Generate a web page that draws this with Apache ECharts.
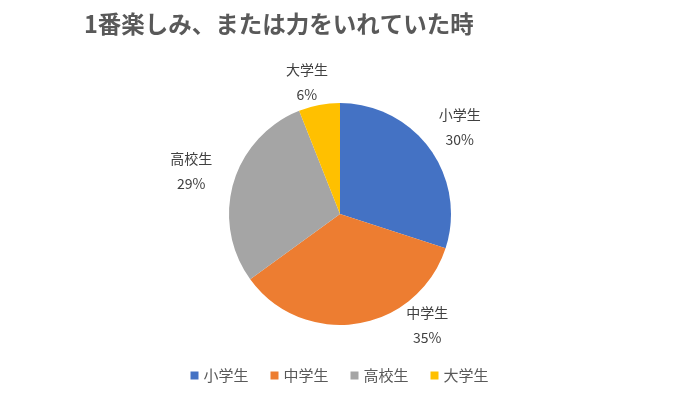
<!DOCTYPE html>
<html>
<head>
<meta charset="utf-8">
<script src="https://cdn.jsdelivr.net/npm/echarts@6/dist/echarts.min.js"></script>
<style>
  html, body { margin: 0; padding: 0; background: #fff; }
  #main { width: 679px; height: 402px; }
</style>
</head>
<body>
<div id="main"></div>
<script>
// 学年ごとの割合 (%)
var categories = ['小学生', '中学生', '高校生', '大学生'];
var values = [30, 35, 29, 6];
var colors = ['#4472C4', '#ED7D31', '#A5A5A5', '#FFC000'];

var font = '"Noto Sans CJK JP", "Noto Sans", sans-serif';

var myChart = echarts.init(document.getElementById('main'));
var option = {
  title: {
    text: '1番楽しみ、または力をいれていた時',
    left: 79,
    top: 7,
    textStyle: {
      color: '#595959',
      fontSize: 23.5,
      fontWeight: 'bold',
      fontFamily: font
    }
  },
  legend: {
    bottom: 14,
    left: 'center',
    icon: 'rect',
    itemWidth: 8,
    itemHeight: 8,
    itemGap: 22,
    textStyle: { color: '#595959', fontSize: 15, fontFamily: font },
    data: categories
  },
  series: [
    {
      type: 'pie',
      radius: 111,
      center: [340, 214],
      startAngle: 90,
      clockwise: true,
      avoidLabelOverlap: false,
      label: {
        show: true,
        position: 'outside',
        formatter: '{b}\n{d}%',
        color: '#404040',
        fontSize: 14,
        lineHeight: 25,
        distanceToLabelLine: 0,
        fontFamily: font
      },
      labelLine: { show: false, length: 37, length2: 0 },
      labelLayout: function (p) {
        var l = { align: 'center' };
        // Excelの「自動調整」と同じく中学生ラベルを右下に寄せる
        if (p.dataIndex === 1) { l.dx = 64; l.dy = -35; }
        if (p.dataIndex === 3) { l.dx = -8; }
        return l;
      },
      data: categories.map(function (name, i) {
        var item = { name: name, value: values[i], itemStyle: { color: colors[i] } };
        if (name === '大学生') item.labelLine = { show: false, length: 23, length2: 0 };
        if (name === '高校生') item.labelLine = { show: false, length: 44, length2: 0 };
        return item;
      })
    }
  ]
};
myChart.setOption(option);
</script>
</body>
</html>
